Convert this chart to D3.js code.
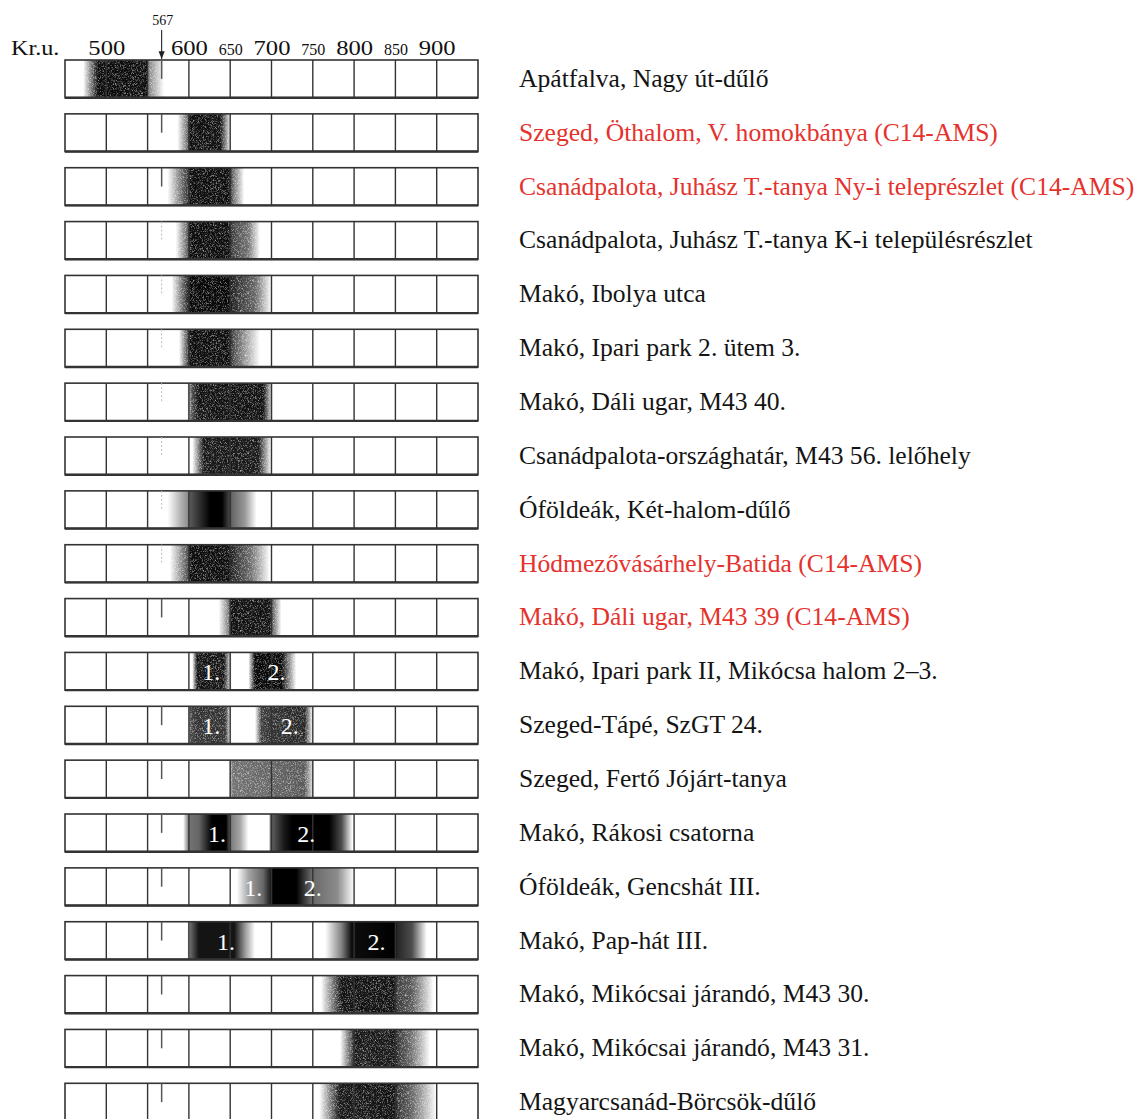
<!DOCTYPE html>
<html>
<head>
<meta charset="utf-8">
<script src="https://cdn.jsdelivr.net/npm/d3@7"></script>
<style>
  body { margin: 0; background: #fff; }
  svg { display: block; }
  text { font-family: "Liberation Serif", "Times New Roman", serif; }
</style>
</head>
<body>
<svg id="chart" width="1142" height="1119"></svg>
<script>
// site names, top to bottom
const sites = [
  "Apátfalva, Nagy út-dűlő",
  "Szeged, Öthalom, V. homokbánya (C14-AMS)",
  "Csanádpalota, Juhász T.-tanya Ny-i teleprészlet (C14-AMS)",
  "Csanádpalota, Juhász T.-tanya K-i településrészlet",
  "Makó, Ibolya utca",
  "Makó, Ipari park 2. ütem 3.",
  "Makó, Dáli ugar, M43 40.",
  "Csanádpalota-országhatár, M43 56. lelőhely",
  "Óföldeák, Két-halom-dűlő",
  "Hódmezővásárhely-Batida (C14-AMS)",
  "Makó, Dáli ugar, M43 39 (C14-AMS)",
  "Makó, Ipari park II, Mikócsa halom 2–3.",
  "Szeged-Tápé, SzGT 24.",
  "Szeged, Fertő Jójárt-tanya",
  "Makó, Rákosi csatorna",
  "Óföldeák, Gencshát III.",
  "Makó, Pap-hát III.",
  "Makó, Mikócsai járandó, M43 30.",
  "Makó, Mikócsai járandó, M43 31.",
  "Magyarcsanád-Börcsök-dűlő"
];
// radiocarbon dated sites (red labels)
const c14Sites = [1, 2, 9, 10];

// time axis
const cellYears = [450, 500, 550, 600, 650, 700, 750, 800, 850, 900, 950];
const tickYears = [500, 600, 650, 700, 750, 800, 850, 900];
const minorTicks = [650, 750, 850];
const markYear = 567;

// dating bands: row index, [year, density] profile, grainy print or smooth
const bands = [
  { row: 0,  grain: true,  p: [[472,0],[490,0.95],[549,0.95],[551,0.5],[570,0]] },
  { row: 1,  grain: true,  p: [[586,0],[599,0.6],[601,0.95],[638,0.92],[651,0]] },
  { row: 2,  grain: true,  p: [[574,0],[599,0.8],[601,0.95],[650,0.95],[652,0.65],[667,0]] },
  { row: 3,  grain: true,  p: [[584,0],[599,0.65],[601,0.95],[650,0.95],[652,0.75],[672,0.55],[686,0]] },
  { row: 4,  grain: true,  p: [[579,0],[599,0.85],[601,0.97],[650,0.97],[652,0.85],[680,0.6],[700,0]] },
  { row: 5,  grain: true,  p: [[588,0],[599,0.75],[601,0.95],[650,0.95],[652,0.75],[686,0]] },
  { row: 6,  grain: true,  p: [[598,0],[603,0.65],[612,0.93],[690,0.93],[702,0]] },
  { row: 7,  grain: true,  p: [[604,0],[618,0.9],[684,0.9],[700,0]] },
  { row: 8,  grain: false, p: [[574,0],[590,0.3],[599,0.45],[601,0.65],[626,1],[640,1],[650,0.7],[652,0.6],[668,0.4],[682,0]] },
  { row: 9,  grain: true,  p: [[577,0],[599,0.7],[601,0.95],[650,0.95],[652,0.85],[676,0.55],[698,0]] },
  { row: 10, grain: true,  p: [[636,0],[649,0.55],[651,0.93],[698,0.93],[701,0.65],[712,0]] },
  { row: 11, grain: true,  p: [[604,0],[610,0.92],[642,0.92],[652,0]] },
  { row: 11, grain: true,  p: [[672,0],[680,0.97],[712,0.97],[730,0]] },
  { row: 12, grain: true,  p: [[600,0],[601,0.7],[610,0.8],[644,0.8],[651,0]] },
  { row: 12, grain: true,  p: [[680,0],[688,0.75],[700,0.8],[740,0.85],[750,0]] },
  { row: 13, grain: true,  p: [[648,0],[653,0.55],[740,0.65],[752,0]] },
  { row: 14, grain: false, p: [[593,0],[600,0.55],[612,0.6],[628,1],[645,1],[652,0.5],[662,0.35],[672,0]] },
  { row: 14, grain: false, p: [[697,0],[699,0.6],[715,0.9],[725,1],[770,1],[785,0.7],[798,0]] },
  { row: 15, grain: false, p: [[658,0],[672,0.35],[690,0.6],[702,1],[730,1],[748,0.6],[780,0.45],[800,0]] },
  { row: 16, grain: false, p: [[598,0],[602,0.6],[612,0.92],[655,0.92],[668,0.4],[680,0]] },
  { row: 16, grain: false, p: [[765,0],[785,0.5],[797,0.95],[850,1],[852,0.85],[870,0.7],[888,0]] },
  { row: 17, grain: true,  p: [[760,0],[785,0.93],[850,0.93],[852,0.75],[870,0.65],[896,0]] },
  { row: 18, grain: true,  p: [[783,0],[798,0.75],[801,0.9],[850,0.9],[852,0.8],[870,0.55],[892,0]] },
  { row: 19, grain: true,  p: [[758,0],[782,0.9],[850,0.93],[852,0.8],[870,0.6],[900,0]] }
];

// phase numbers inside bands
const phaseLabels = [
  { row: 11, year: 627, text: "1." }, { row: 11, year: 706, text: "2." },
  { row: 12, year: 627, text: "1." }, { row: 12, year: 722, text: "2." },
  { row: 14, year: 634, text: "1." }, { row: 14, year: 742, text: "2." },
  { row: 15, year: 678, text: "1." }, { row: 15, year: 750, text: "2." },
  { row: 16, year: 645, text: "1." }, { row: 16, year: 827, text: "2." }
];

// rows where the 567 mark is only faintly printed / missing
const faintMark = [3, 4, 5, 6, 7, 8, 9];
const noMark = [11];

const svg = d3.select("#chart");
const x = d3.scaleLinear().domain([450, 950]).range([65, 478]);
const y = d3.scaleBand().domain(d3.range(sites.length))
            .range([60, 1121]).paddingInner(0.3).paddingOuter(0);
const h = y.bandwidth();

const defs = svg.append("defs");
const grain = defs.append("filter").attr("id", "grain")
  .attr("x", 0).attr("y", 0).attr("width", 1).attr("height", 1)
  .attr("color-interpolation-filters", "sRGB");
grain.append("feTurbulence").attr("type", "fractalNoise")
  .attr("baseFrequency", 1.6).attr("numOctaves", 1).attr("seed", 4).attr("result", "noise");
grain.append("feColorMatrix").attr("in", "noise").attr("type", "matrix")
  .attr("values", "0 0 0 0 0  0 0 0 0 0  0 0 0 0 0  1.8 0 0 0 0.05").attr("result", "mask");
grain.append("feComposite").attr("in", "SourceGraphic").attr("in2", "mask").attr("operator", "in");

defs.append("marker").attr("id", "arrow")
  .attr("viewBox", "0 0 10 10").attr("refX", 10).attr("refY", 5)
  .attr("markerWidth", 7).attr("markerHeight", 7).attr("orient", "auto")
  .append("path").attr("d", "M0,1 L10,5 L0,9 Z").attr("fill", "#222");

// header axis
const axis = svg.append("g").attr("transform", "translate(0,58)")
  .call(d3.axisTop(x).tickValues(tickYears).tickSize(0).tickPadding(3).tickFormat(d3.format("d")));
axis.select(".domain").remove();
axis.selectAll("text")
  .attr("fill", "#111")
  .style("font-family", "'Liberation Serif', serif")
  .style("font-size", d => minorTicks.includes(d) ? "16px" : "22px")
  .attr("transform", d => minorTicks.includes(d) ? null : "scale(1.12,1)");

svg.append("text").attr("y", 55)
  .attr("font-size", 22).attr("fill", "#111")
  .attr("transform", "scale(1.1,1)").attr("x", 10)
  .text("Kr.u.");

svg.append("text").attr("x", x(markYear) + 1).attr("y", 25)
  .attr("text-anchor", "middle").attr("font-size", 14).attr("fill", "#111")
  .text(markYear);
svg.append("line")
  .attr("x1", x(markYear)).attr("x2", x(markYear))
  .attr("y1", 30).attr("y2", 59)
  .attr("stroke", "#222").attr("stroke-width", 1.1)
  .attr("marker-end", "url(#arrow)");

// rows
const rows = svg.append("g").selectAll("g").data(sites).join("g")
  .attr("transform", (d, i) => `translate(0,${y(i)})`);

rows.append("rect")
  .attr("x", x(450)).attr("width", x(950) - x(450))
  .attr("height", h).attr("fill", "#fff");

// bands
bands.forEach((b, k) => {
  const x0 = x(b.p[0][0]), x1 = x(b.p[b.p.length - 1][0]);
  const g = defs.append("linearGradient").attr("id", "band" + k)
    .attr("gradientUnits", "userSpaceOnUse")
    .attr("x1", x0).attr("x2", x1).attr("y1", 0).attr("y2", 0);
  g.selectAll("stop").data(b.p).join("stop")
    .attr("offset", d => (x(d[0]) - x0) / (x1 - x0))
    .attr("stop-color", "#000")
    .attr("stop-opacity", d => d[1]);
  svg.append("rect")
    .attr("x", x0).attr("width", x1 - x0)
    .attr("y", y(b.row)).attr("height", h)
    .attr("fill", `url(#band${k})`)
    .attr("filter", b.grain ? "url(#grain)" : null);
});

// cell grid
const grid = svg.append("g");
sites.forEach((s, i) => {
  grid.selectAll(null).data(cellYears.slice(1, -1)).join("line")
    .attr("x1", d => x(d)).attr("x2", d => x(d))
    .attr("y1", y(i)).attr("y2", y(i) + h)
    .attr("stroke", "#333").attr("stroke-width", 1.4);
  grid.append("rect")
    .attr("x", x(450)).attr("width", x(950) - x(450))
    .attr("y", y(i)).attr("height", h)
    .attr("fill", "none").attr("stroke", "#333").attr("stroke-width", 1.6);
  grid.append("line")
    .attr("x1", x(450)).attr("x2", x(950))
    .attr("y1", y(i) + h).attr("y2", y(i) + h)
    .attr("stroke", "#333").attr("stroke-width", 2.4);
  if (!noMark.includes(i)) {
    const faint = faintMark.includes(i);
    grid.append("line")
      .attr("x1", x(markYear)).attr("x2", x(markYear))
      .attr("y1", y(i)).attr("y2", y(i) + h * 0.5)
      .attr("stroke", faint ? "#bbb" : "#555")
      .attr("stroke-width", faint ? 1 : 1.5)
      .attr("stroke-dasharray", faint ? "2,2" : null);
  }
});

// phase numbers
svg.append("g").selectAll("text").data(phaseLabels).join("text")
  .attr("x", d => x(d.year)).attr("y", d => y(d.row) + h / 2 + 9)
  .attr("text-anchor", "middle").attr("font-size", 24).attr("fill", "#fff")
  .text(d => d.text);

// site labels
svg.append("g").selectAll("text").data(sites).join("text")
  .attr("x", 519).attr("y", (d, i) => y(i) + h / 2 + 8)
  .attr("font-size", 25.6)
  .attr("fill", (d, i) => c14Sites.includes(i) ? "#e5322d" : "#141414")
  .text(d => d);
</script>
</body>
</html>
